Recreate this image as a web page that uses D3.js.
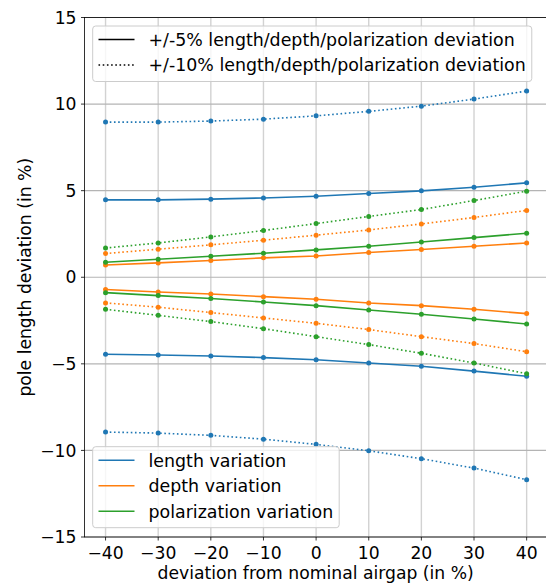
<!DOCTYPE html>
<html>
<head>
<meta charset="utf-8">
<script src="https://cdn.jsdelivr.net/npm/d3@7"></script>
<style>
  body { margin: 0; background: #fff; }
  text { font-family: "DejaVu Sans", sans-serif; fill: #000; }
</style>
</head>
<body>
<svg id="chart"></svg>
<script>
var W = 546, H = 585;

// x positions (airgap deviation in %)
var xVals = [-40, -30, -20, -10, 0, 10, 20, 30, 40];
var xTicks = [-40, -30, -20, -10, 0, 10, 20, 30, 40];
var yTicks = [-15, -10, -5, 0, 5, 10, 15];

// length variation
var lengthUp5 = [4.47, 4.47, 4.51, 4.58, 4.68, 4.84, 4.99, 5.2, 5.45];
var lengthLo5 = [-4.45, -4.49, -4.55, -4.64, -4.76, -4.95, -5.14, -5.42, -5.72];
var lengthUp10 = [8.96, 8.96, 9.02, 9.13, 9.32, 9.58, 9.88, 10.29, 10.75];
var lengthLo10 = [-8.94, -9.0, -9.13, -9.35, -9.65, -10.02, -10.48, -11.02, -11.69];
// depth variation
var depthUp5 = [0.71, 0.83, 0.97, 1.12, 1.23, 1.43, 1.6, 1.79, 1.98];
var depthLo5 = [-0.71, -0.85, -0.97, -1.12, -1.27, -1.49, -1.64, -1.85, -2.1];
var depthUp10 = [1.37, 1.62, 1.87, 2.14, 2.43, 2.73, 3.08, 3.45, 3.86];
var depthLo10 = [-1.48, -1.73, -2.04, -2.35, -2.66, -3.02, -3.43, -3.83, -4.3];
// polarization variation
var polUp5 = [0.87, 1.04, 1.21, 1.39, 1.58, 1.79, 2.04, 2.29, 2.54];
var polLo5 = [-0.89, -1.06, -1.23, -1.43, -1.64, -1.89, -2.14, -2.41, -2.7];
var polUp10 = [1.69, 1.98, 2.33, 2.7, 3.1, 3.51, 3.91, 4.43, 4.97];
var polLo10 = [-1.85, -2.2, -2.56, -2.97, -3.43, -3.89, -4.39, -4.95, -5.57];

var colors = ["#1f77b4", "#ff7f0e", "#2ca02c"];
var varNames = ["length variation", "depth variation", "polarization variation"];
var devNames = ["+/-5% length/depth/polarization deviation", "+/-10% length/depth/polarization deviation"];

var series = [
  { vals: lengthUp10, c: 0, dotted: true },
  { vals: lengthUp5, c: 0, dotted: false },
  { vals: lengthLo5, c: 0, dotted: false },
  { vals: lengthLo10, c: 0, dotted: true },
  { vals: depthUp10, c: 1, dotted: true },
  { vals: depthUp5, c: 1, dotted: false },
  { vals: depthLo5, c: 1, dotted: false },
  { vals: depthLo10, c: 1, dotted: true },
  { vals: polUp10, c: 2, dotted: true },
  { vals: polUp5, c: 2, dotted: false },
  { vals: polLo5, c: 2, dotted: false },
  { vals: polLo10, c: 2, dotted: true },
];

var plot = { left: 84.5, right: 547.7, top: 17.5, bottom: 537 };
var fs = 17.2;   // ticks + axis labels
var lfs = 17.4;  // legend text

var svg = d3.select("#chart").attr("width", W).attr("height", H);

var x = d3.scaleLinear().domain([-44, 44]).range([plot.left, plot.right]);
var y = d3.scaleLinear().domain([-15, 15]).range([plot.bottom, plot.top]);

function fmt(v) {
  return v < 0 ? "\u2212" + Math.abs(v) : String(v);
}

// grid
svg.append("g")
  .selectAll("line")
  .data(xTicks)
  .enter()
  .append("line")
  .attr("x1", (d) => x(d)).attr("x2", (d) => x(d))
  .attr("y1", plot.top).attr("y2", plot.bottom)
  .attr("stroke", "#d2d2d2").attr("stroke-width", 1.4);
svg.append("g")
  .selectAll("line")
  .data(yTicks)
  .enter()
  .append("line")
  .attr("x1", plot.left).attr("x2", plot.right)
  .attr("y1", (d) => y(d)).attr("y2", (d) => y(d))
  .attr("stroke", "#b4b4b4").attr("stroke-width", 1.2);

// lines + markers
var line = d3.line().x((d, i) => x(xVals[i])).y((d) => y(d));
series.forEach(function (s) {
  svg.append("path")
    .attr("d", line(s.vals))
    .attr("fill", "none")
    .attr("stroke", colors[s.c])
    .attr("stroke-width", 1.6)
    .attr("stroke-dasharray", s.dotted ? "1.6,2.6" : null);
  svg.append("g")
    .selectAll("circle")
    .data(s.vals)
    .enter()
    .append("circle")
    .attr("cx", (d, i) => x(xVals[i]))
    .attr("cy", (d) => y(d))
    .attr("r", 2.5)
    .attr("fill", colors[s.c]);
});

// spines
svg.append("rect")
  .attr("x", plot.left).attr("y", plot.top)
  .attr("width", plot.right - plot.left).attr("height", plot.bottom - plot.top)
  .attr("fill", "none").attr("stroke", "#000").attr("stroke-width", 0.8);

// ticks
var xt = svg.append("g").selectAll("g").data(xTicks).enter().append("g");
xt.append("line")
  .attr("x1", (d) => x(d)).attr("x2", (d) => x(d))
  .attr("y1", plot.bottom).attr("y2", plot.bottom + 3.5)
  .attr("stroke", "#000").attr("stroke-width", 0.8);
xt.append("text")
  .attr("x", (d) => x(d))
  .attr("y", plot.bottom + 22)
  .attr("text-anchor", "middle")
  .style("font-size", fs + "px")
  .text((d) => fmt(d));

var yt = svg.append("g").selectAll("g").data(yTicks).enter().append("g");
yt.append("line")
  .attr("x1", plot.left - 3.5).attr("x2", plot.left)
  .attr("y1", (d) => y(d)).attr("y2", (d) => y(d))
  .attr("stroke", "#000").attr("stroke-width", 0.8);
yt.append("text")
  .attr("x", plot.left - 8)
  .attr("y", (d) => y(d) + 6.2)
  .attr("text-anchor", "end")
  .style("font-size", fs + "px")
  .text((d) => fmt(d));

// axis labels
svg.append("text")
  .attr("x", (plot.left + plot.right) / 2 - 0.5)
  .attr("y", 579)
  .attr("text-anchor", "middle")
  .style("font-size", fs + "px")
  .text("deviation from nominal airgap (in %)");
svg.append("text")
  .attr("transform", "translate(31," + (plot.top + plot.bottom) / 2 + ") rotate(-90)")
  .attr("text-anchor", "middle")
  .style("font-size", fs + "px")
  .text("pole length deviation (in %)");

// legends
function drawLegend(top, items) {
  var g = svg.append("g");
  var frame = g.append("rect");
  var maxEnd = 0;
  items.forEach(function (it, i) {
    var cy = top + 13.5 + i * 25.5;
    g.append("line")
      .attr("x1", 98.5).attr("x2", 134.5)
      .attr("y1", cy).attr("y2", cy)
      .attr("stroke", it.color)
      .attr("stroke-width", 1.6)
      .attr("stroke-dasharray", it.dotted ? "1.6,2.6" : null);
    var t = g.append("text")
      .attr("x", 148.5)
      .attr("y", cy + 6.3)
      .style("font-size", lfs + "px")
      .text(it.label);
    maxEnd = Math.max(maxEnd, 148.5 + t.node().getComputedTextLength());
  });
  frame
    .attr("x", 92.7).attr("y", top)
    .attr("width", maxEnd + 6 - 92.7)
    .attr("height", items.length * 25.5 + 4.5)
    .attr("rx", 3)
    .attr("fill", "#fff").attr("fill-opacity", 0.8)
    .attr("stroke", "#cccccc").attr("stroke-width", 1);
}

drawLegend(26, [
  { label: devNames[0], color: "#000", dotted: false },
  { label: devNames[1], color: "#000", dotted: true },
]);
drawLegend(446.7, varNames.map((n, i) => ({ label: n, color: colors[i], dotted: false })));
</script>
</body>
</html>
